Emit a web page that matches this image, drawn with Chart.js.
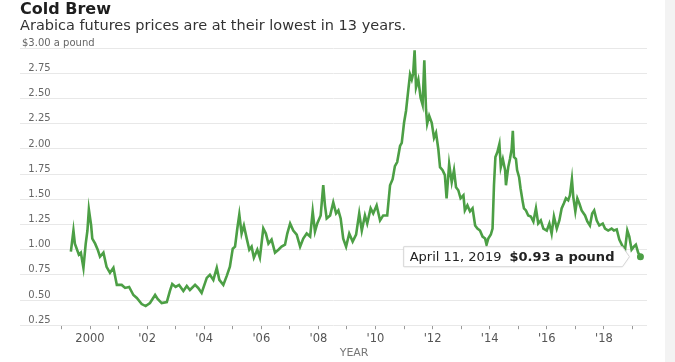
<!DOCTYPE html>
<html>
<head>
<meta charset="utf-8">
<script src="https://cdn.jsdelivr.net/npm/chart.js@4.4.1/dist/chart.umd.min.js"></script>
<style>
  html, body { margin: 0; padding: 0; background: #fff; }
  #wrap { width: 675px; height: 362px; position: relative; }
</style>
</head>
<body>
<div id="wrap"><canvas id="price-chart"></canvas></div>
<script>
// Arabica futures, dollars a pound (decimal year, price)
var weeks = [
  1999.33, 1999.42, 1999.47, 1999.61, 1999.68, 1999.77, 1999.85, 1999.91, 1999.96, 2000.04,
  2000.08, 2000.18, 2000.27, 2000.35, 2000.47, 2000.58, 2000.70, 2000.82, 2000.94, 2001.11,
  2001.23, 2001.37, 2001.52, 2001.64, 2001.81, 2001.95, 2002.10, 2002.28, 2002.37, 2002.51,
  2002.69, 2002.80, 2002.88, 2003.00, 2003.12, 2003.27, 2003.39, 2003.50, 2003.68, 2003.79,
  2003.91, 2004.09, 2004.20, 2004.32, 2004.44, 2004.53, 2004.67, 2004.79, 2004.90, 2005.00,
  2005.08, 2005.16, 2005.23, 2005.31, 2005.39, 2005.49, 2005.58, 2005.66, 2005.74, 2005.86,
  2005.95, 2006.07, 2006.16, 2006.25, 2006.36, 2006.48, 2006.60, 2006.71, 2006.83, 2006.91,
  2007.01, 2007.12, 2007.24, 2007.36, 2007.47, 2007.59, 2007.71, 2007.80, 2007.88, 2007.96,
  2008.08, 2008.17, 2008.23, 2008.29, 2008.41, 2008.52, 2008.62, 2008.70, 2008.78, 2008.87,
  2008.97, 2009.08, 2009.20, 2009.32, 2009.43, 2009.52, 2009.63, 2009.71, 2009.83, 2009.92,
  2010.04, 2010.16, 2010.27, 2010.41, 2010.51, 2010.60, 2010.68, 2010.76, 2010.86, 2010.92,
  2011.00, 2011.07, 2011.15, 2011.21, 2011.27, 2011.32, 2011.37, 2011.42, 2011.50, 2011.58,
  2011.65, 2011.71, 2011.77, 2011.81, 2011.88, 2011.97, 2012.05, 2012.12, 2012.20, 2012.26,
  2012.35, 2012.43, 2012.49, 2012.58, 2012.67, 2012.75, 2012.82, 2012.90, 2012.98, 2013.08,
  2013.13, 2013.22, 2013.31, 2013.40, 2013.49, 2013.57, 2013.66, 2013.75, 2013.84, 2013.89,
  2013.95, 2014.04, 2014.10, 2014.15, 2014.20, 2014.27, 2014.34, 2014.39, 2014.46, 2014.54,
  2014.57, 2014.65, 2014.71, 2014.77, 2014.81, 2014.85, 2014.92, 2014.96, 2015.03, 2015.08,
  2015.16, 2015.20, 2015.27, 2015.35, 2015.44, 2015.53, 2015.62, 2015.70, 2015.79, 2015.88,
  2016.00, 2016.09, 2016.17, 2016.25, 2016.35, 2016.44, 2016.52, 2016.60, 2016.67, 2016.75,
  2016.81, 2016.88, 2016.93, 2017.00, 2017.07, 2017.14, 2017.22, 2017.34, 2017.42, 2017.51,
  2017.59, 2017.66, 2017.75, 2017.84, 2017.96, 2018.04, 2018.15, 2018.27, 2018.35, 2018.45,
  2018.54, 2018.66, 2018.74, 2018.82, 2018.89, 2018.97, 2019.05, 2019.12, 2019.20, 2019.28
];
var prices = [
  0.98, 1.19, 1.06, 0.95, 0.97, 0.82, 1.06, 1.19, 1.40, 1.24,
  1.11, 1.06, 1.00, 0.93, 0.97, 0.83, 0.77, 0.82, 0.65, 0.65,
  0.62, 0.63, 0.55, 0.52, 0.46, 0.44, 0.47, 0.55, 0.51, 0.47,
  0.48, 0.59, 0.66, 0.63, 0.65, 0.59, 0.64, 0.60, 0.65, 0.62,
  0.57, 0.72, 0.75, 0.70, 0.82, 0.70, 0.65, 0.74, 0.83, 1.01,
  1.03, 1.21, 1.35, 1.16, 1.24, 1.11, 1.00, 1.03, 0.92, 1.00,
  0.92, 1.21, 1.16, 1.06, 1.10, 0.97, 1.00, 1.03, 1.05, 1.16,
  1.26, 1.19, 1.15, 1.03, 1.11, 1.16, 1.13, 1.38, 1.18, 1.26,
  1.34, 1.64, 1.44, 1.31, 1.34, 1.47, 1.36, 1.39, 1.31, 1.11,
  1.03, 1.16, 1.08, 1.15, 1.36, 1.19, 1.34, 1.26, 1.41, 1.36,
  1.44, 1.29, 1.34, 1.34, 1.64, 1.70, 1.83, 1.87, 2.03, 2.06,
  2.26, 2.38, 2.59, 2.74, 2.69, 2.75, 2.98, 2.61, 2.69, 2.51,
  2.44, 2.88, 2.39, 2.25, 2.33, 2.26, 2.11, 2.16, 2.00, 1.82,
  1.79, 1.74, 1.51, 1.85, 1.67, 1.79, 1.62, 1.59, 1.51, 1.54,
  1.39, 1.44, 1.38, 1.41, 1.24, 1.21, 1.19, 1.13, 1.11, 1.05,
  1.11, 1.15, 1.21, 1.64, 1.92, 1.97, 2.05, 1.82, 1.90, 1.79,
  1.64, 1.82, 1.90, 2.00, 2.18, 1.92, 1.90, 1.79, 1.72, 1.61,
  1.47, 1.41, 1.39, 1.34, 1.33, 1.28, 1.41, 1.26, 1.29, 1.21,
  1.19, 1.26, 1.16, 1.33, 1.21, 1.29, 1.41, 1.46, 1.51, 1.49,
  1.54, 1.70, 1.52, 1.38, 1.51, 1.46, 1.39, 1.34, 1.28, 1.24,
  1.36, 1.39, 1.29, 1.24, 1.26, 1.21, 1.19, 1.21, 1.19, 1.20,
  1.10, 1.03, 1.00, 1.19, 1.13, 1.00, 1.03, 1.05, 0.97, 0.93
];

var tickYears = [1999, 2000, 2001, 2002, 2003, 2004, 2005, 2006, 2007, 2008, 2009,
                 2010, 2011, 2012, 2013, 2014, 2015, 2016, 2017, 2018, 2019];
var yearLabels = ['', '2000', '', "'02", '', "'04", '', "'06", '', "'08", '',
                  "'10", '', "'12", '', "'14", '', "'16", '', "'18", ''];
var priceTicks = [0.25, 0.5, 0.75, 1.0, 1.25, 1.5, 1.75, 2.0, 2.25, 2.5, 2.75, 3.0];
var priceLabels = ['0.25', '0.50', '0.75', '1.00', '1.25', '1.50', '1.75', '2.00', '2.25', '2.50', '2.75', '$3.00 a pound'];

var calloutDate = 'April 11, 2019';
var calloutValue = '$0.93 a pound';

var FONT = "'DejaVu Sans', sans-serif";
var GREEN = '#4c9f45';

// gray strip on the right edge, as in the screenshot
var edgeStrip = {
    id: 'edgeStrip',
    beforeDraw: function(chart) {
        var ctx = chart.ctx;
        ctx.save();
        ctx.fillStyle = '#f3f3f3';
        ctx.fillRect(665, 0, chart.width - 665, chart.height);
        ctx.restore();
    }
};

// "YEAR" under the axis and the callout box at the last point
var extras = {
    id: 'extras',
    afterDatasetsDraw: function(chart) {
        var ctx = chart.ctx;
        var xs = chart.scales.x;
        var meta = chart.getDatasetMeta(0);
        var last = meta.data[meta.data.length - 1];
        var px = last.x, py = last.y;

        ctx.save();
        ctx.font = '11px ' + FONT;
        ctx.fillStyle = '#777';
        ctx.textAlign = 'center';
        ctx.textBaseline = 'middle';
        ctx.fillText('YEAR', xs.getPixelForValue(2009.25), 353);

        ctx.font = '13px ' + FONT;
        var wa = ctx.measureText(calloutDate).width;
        ctx.font = 'bold 13px ' + FONT;
        var wb = ctx.measureText(calloutValue).width;
        var tip = px - 11;
        var right = tip - 7;
        var left = right - (6 + wa + 8 + wb + 8);
        var top = py - 10, bottom = py + 10;

        ctx.beginPath();
        ctx.moveTo(left, top);
        ctx.lineTo(right, top);
        ctx.lineTo(tip, py);
        ctx.lineTo(right, bottom);
        ctx.lineTo(left, bottom);
        ctx.closePath();
        ctx.fillStyle = '#fff';
        ctx.shadowColor = 'rgba(0,0,0,0.12)';
        ctx.shadowBlur = 2;
        ctx.fill();
        ctx.shadowColor = 'transparent';
        ctx.strokeStyle = '#d6d6d6';
        ctx.lineWidth = 1;
        ctx.stroke();

        ctx.textAlign = 'left';
        ctx.fillStyle = '#222';
        ctx.font = '13px ' + FONT;
        ctx.fillText(calloutDate, left + 6, py + 1);
        ctx.font = 'bold 13px ' + FONT;
        ctx.fillText(calloutValue, left + 6 + wa + 8, py + 1);
        ctx.restore();
    }
};

var points = weeks.map(function(w, i) { return { x: w, y: prices[i] }; });

new Chart(document.getElementById('price-chart'), {
    type: 'line',
    data: {
        datasets: [{
            data: points,
            borderColor: GREEN,
            backgroundColor: GREEN,
            borderWidth: 2.6,
            tension: 0,
            pointRadius: function(c) { return c.dataIndex === points.length - 1 ? 2.2 : 0; },
            pointHoverRadius: 0
        }]
    },
    options: {
        responsive: true,
        maintainAspectRatio: false,
        animation: false,
        layout: { padding: { left: 20, right: 28, top: 0, bottom: 13 } },
        plugins: {
            legend: { display: false },
            tooltip: { enabled: false },
            title: {
                display: true,
                text: 'Cold Brew',
                align: 'start',
                color: '#1e1e1e',
                font: { family: FONT, size: 16, weight: 'bold', lineHeight: 1 },
                padding: { top: 2, bottom: 0 }
            },
            subtitle: {
                display: true,
                text: 'Arabica futures prices are at their lowest in 13 years.',
                align: 'start',
                color: '#333',
                font: { family: FONT, size: 14.5, lineHeight: 1.15 },
                padding: { top: 0, bottom: 13.6 }
            }
        },
        scales: {
            x: {
                type: 'linear',
                min: 1997.548,
                max: 2019.51,
                afterBuildTicks: function(s) {
                    s.ticks = tickYears.map(function(v) { return { value: v }; });
                },
                grid: { drawOnChartArea: false, drawTicks: true, tickLength: 4, tickColor: '#999' },
                border: { display: false },
                ticks: {
                    autoSkip: false,
                    maxRotation: 0,
                    padding: 3,
                    color: '#555',
                    font: { family: FONT, size: 11.5 },
                    callback: function(v, i) { return yearLabels[i]; }
                }
            },
            y: {
                min: 0.25,
                max: 3.0,
                afterBuildTicks: function(s) {
                    s.ticks = priceTicks.map(function(v) { return { value: v }; });
                },
                afterFit: function(s) { s.width = 0; },
                grid: { color: '#e8e8e8', drawTicks: false },
                border: { display: false },
                ticks: {
                    mirror: true,
                    padding: 2,
                    labelOffset: -5,
                    color: '#666',
                    font: { family: FONT, size: 10 },
                    callback: function(v, i) {
                        return i === priceLabels.length - 1 ? priceLabels[i] : '\u2007' + priceLabels[i];
                    }
                }
            }
        }
    },
    plugins: [edgeStrip, extras]
});
</script>
</body>
</html>
